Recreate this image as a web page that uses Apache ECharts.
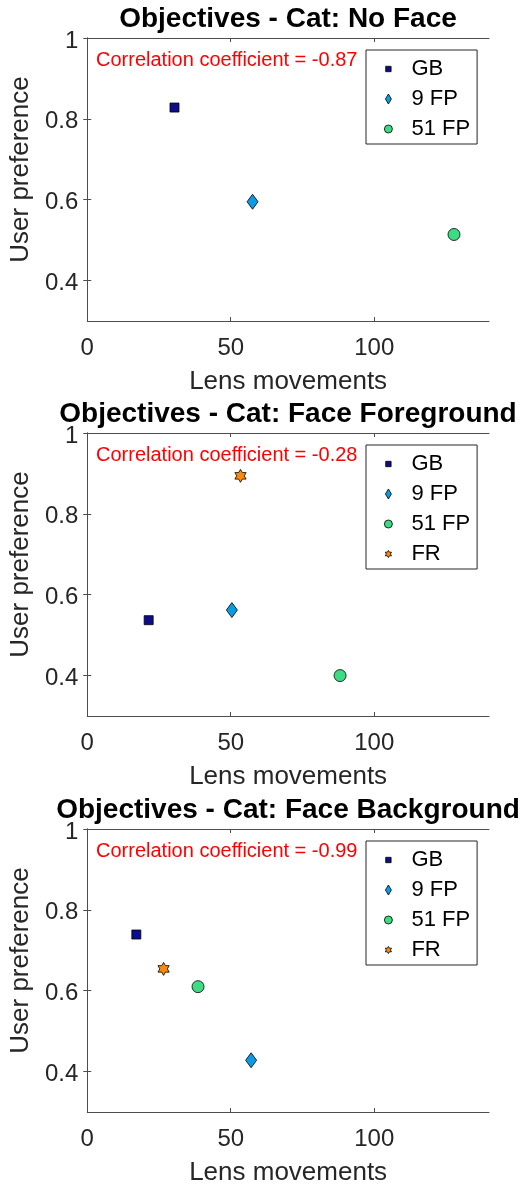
<!DOCTYPE html>
<html>
<head>
<meta charset="utf-8">
<script src="https://cdn.jsdelivr.net/npm/echarts@6/dist/echarts.min.js"></script>
<style>
html,body{margin:0;padding:0;background:#fff;}
#chart{width:522px;height:1188px;}
</style>
</head>
<body>
<div id="chart"></div>
<script>
// ---- data ----
const panelTitles = ['Objectives - Cat: No Face', 'Objectives - Cat: Face Foreground', 'Objectives - Cat: Face Background'];
const correlations = ['-0.87', '-0.28', '-0.99'];
const seriesNames = ['GB', '9 FP', '51 FP', 'FR'];
// one value per panel (No Face, Face Foreground, Face Background); null = not present
const gbLens   = [30.4, 21.4, 17.1];
const gbPref   = [0.828, 0.537, 0.739];
const fp9Lens  = [57.6, 50.4, 57.1];
const fp9Pref  = [0.595, 0.562, 0.428];
const fp51Lens = [127.8, 88.1, 38.6];
const fp51Pref = [0.514, 0.400, 0.610];
const frLens   = [null, 53.4, 26.6];
const frPref   = [null, 0.894, 0.654];
const xTicks = [0, 50, 100];
const yTicks = [0.4, 0.6, 0.8, 1];
const xName = 'Lens movements';
const yName = 'User preference';

// ---- styling ----
const FONT = '"Liberation Sans", Arial, Helvetica, sans-serif';
const AXIS_COLOR = '#4d4d4d';
const TEXT_COLOR = '#262626';
const gridTops = [38, 433, 829];
const gridH = 283, gridL = 87, gridW = 402;
const seriesLens = [gbLens, fp9Lens, fp51Lens, frLens];
const seriesPref = [gbPref, fp9Pref, fp51Pref, frPref];
const HEX = 'path://M10 0L12.887 5L18.66 5L15.77 10L18.66 15L12.887 15L10 20L7.113 15L1.34 15L4.23 10L1.34 5L7.113 5Z';
const seriesStyle = [
  {symbol: 'rect', size: 9, color: '#0c0c8c', icon: 'path://M0 0M10 10M2.3 2.3L7.7 2.3L7.7 7.7L2.3 7.7Z'},
  {symbol: 'diamond', size: [11, 15], color: '#0b9be3', icon: 'path://M0 0M10 10M5 0L8 5L5 10L2 5Z'},
  {symbol: 'circle', size: 12, color: '#3ddc84', icon: 'path://M0 0M10 10M9 5A4 4 0 1 1 1 5A4 4 0 1 1 9 5Z'},
  {symbol: HEX, size: 13, color: '#fb8a0c', icon: 'path://M0 0M10 10M5 1.4L6.04 3.2L8.12 3.2L7.08 5L8.12 6.8L6.04 6.8L5 8.6L3.96 6.8L1.88 6.8L2.92 5L1.88 3.2L3.96 3.2Z'}
];

const grids = [], xAxes = [], yAxes = [], series = [], titles = [], legends = [];
panelTitles.forEach((t, p) => {
  const top = gridTops[p];
  grids.push({left: gridL, top: top, width: gridW, height: gridH, containLabel: false});
  const axisCommon = {
    type: 'value', gridIndex: p, splitLine: {show: false},
    axisLine: {show: true, lineStyle: {color: AXIS_COLOR, width: 1}},
  };
  xAxes.push(Object.assign({}, axisCommon, {
    position: 'bottom', min: 0, max: 140,
    name: xName, nameLocation: 'middle', nameGap: 48,
    nameTextStyle: {fontFamily: FONT, fontSize: 26, color: TEXT_COLOR},
    axisTick: {show: true, inside: true, length: 4, lineStyle: {color: AXIS_COLOR}, customValues: xTicks},
    axisLabel: {show: true, fontFamily: FONT, fontSize: 24, color: TEXT_COLOR, margin: 15, customValues: xTicks}
  }));
  xAxes.push(Object.assign({}, axisCommon, {
    position: 'top', min: 0, max: 140,
    axisTick: {show: true, inside: true, length: 4, lineStyle: {color: AXIS_COLOR}, customValues: xTicks},
    axisLabel: {show: false}
  }));
  yAxes.push(Object.assign({}, axisCommon, {
    position: 'left', min: 0.3, max: 1,
    name: yName, nameLocation: 'middle', nameGap: 47,
    nameTextStyle: {fontFamily: FONT, fontSize: 26, color: TEXT_COLOR, padding: [0, 0, 0, 20]},
    axisTick: {show: true, inside: true, length: 4, lineStyle: {color: AXIS_COLOR}, customValues: yTicks},
    axisLabel: {show: true, fontFamily: FONT, fontSize: 24, color: TEXT_COLOR, margin: 9,
      verticalAlign: 'top', lineHeight: 6, customValues: yTicks}
  }));
  yAxes.push(Object.assign({}, axisCommon, {
    position: 'right', min: 0.3, max: 1,
    axisTick: {show: true, inside: true, length: 4, lineStyle: {color: AXIS_COLOR}, customValues: yTicks},
    axisLabel: {show: false}
  }));
  titles.push({
    text: t, left: gridL + gridW / 2, top: top - 19, padding: 0,
    textAlign: 'center', textVerticalAlign: 'middle',
    textStyle: {fontFamily: FONT, fontSize: 28, fontWeight: 'bold', color: '#000'}
  });
  titles.push({
    text: 'Correlation coefficient = ' + correlations[p], left: 96, top: top + 22, padding: 0,
    textAlign: 'left', textVerticalAlign: 'middle',
    textStyle: {fontFamily: FONT, fontSize: 20, fontWeight: 'normal', color: '#ff0000'}
  });
  const names = [];
  seriesNames.forEach((n, s) => {
    const x = seriesLens[s][p], y = seriesPref[s][p];
    if (x === null || y === null) return;
    names.push({name: n, icon: seriesStyle[s].icon});
    series.push({
      type: 'scatter', name: n, xAxisIndex: 2 * p, yAxisIndex: 2 * p,
      symbol: seriesStyle[s].symbol, symbolSize: seriesStyle[s].size, symbolKeepAspect: true,
      itemStyle: {color: seriesStyle[s].color, borderColor: '#000', borderWidth: 0.8, opacity: 1},
      emphasis: {disabled: true},
      data: [[x, y]]
    });
  });
  legends.push({
    data: names, orient: 'vertical', left: 366, top: top + 12,
    itemWidth: 36, itemHeight: 10, itemGap: 8, padding: [8, 7, 4, 17],
    backgroundColor: '#fff', borderColor: '#262626', borderWidth: 1,
    symbolKeepAspect: true, selectedMode: false,
    itemStyle: {borderWidth: 0.8, borderColor: '#000'},
    textStyle: {fontFamily: FONT, fontSize: 22, color: '#000', lineHeight: 22}
  });
});

const chart = echarts.init(document.getElementById('chart'), null, {renderer: 'canvas'});
chart.setOption({
  animation: false,
  backgroundColor: '#fff',
  title: titles,
  legend: legends,
  grid: grids,
  xAxis: xAxes,
  yAxis: yAxes,
  series: series
});
</script>
</body>
</html>
